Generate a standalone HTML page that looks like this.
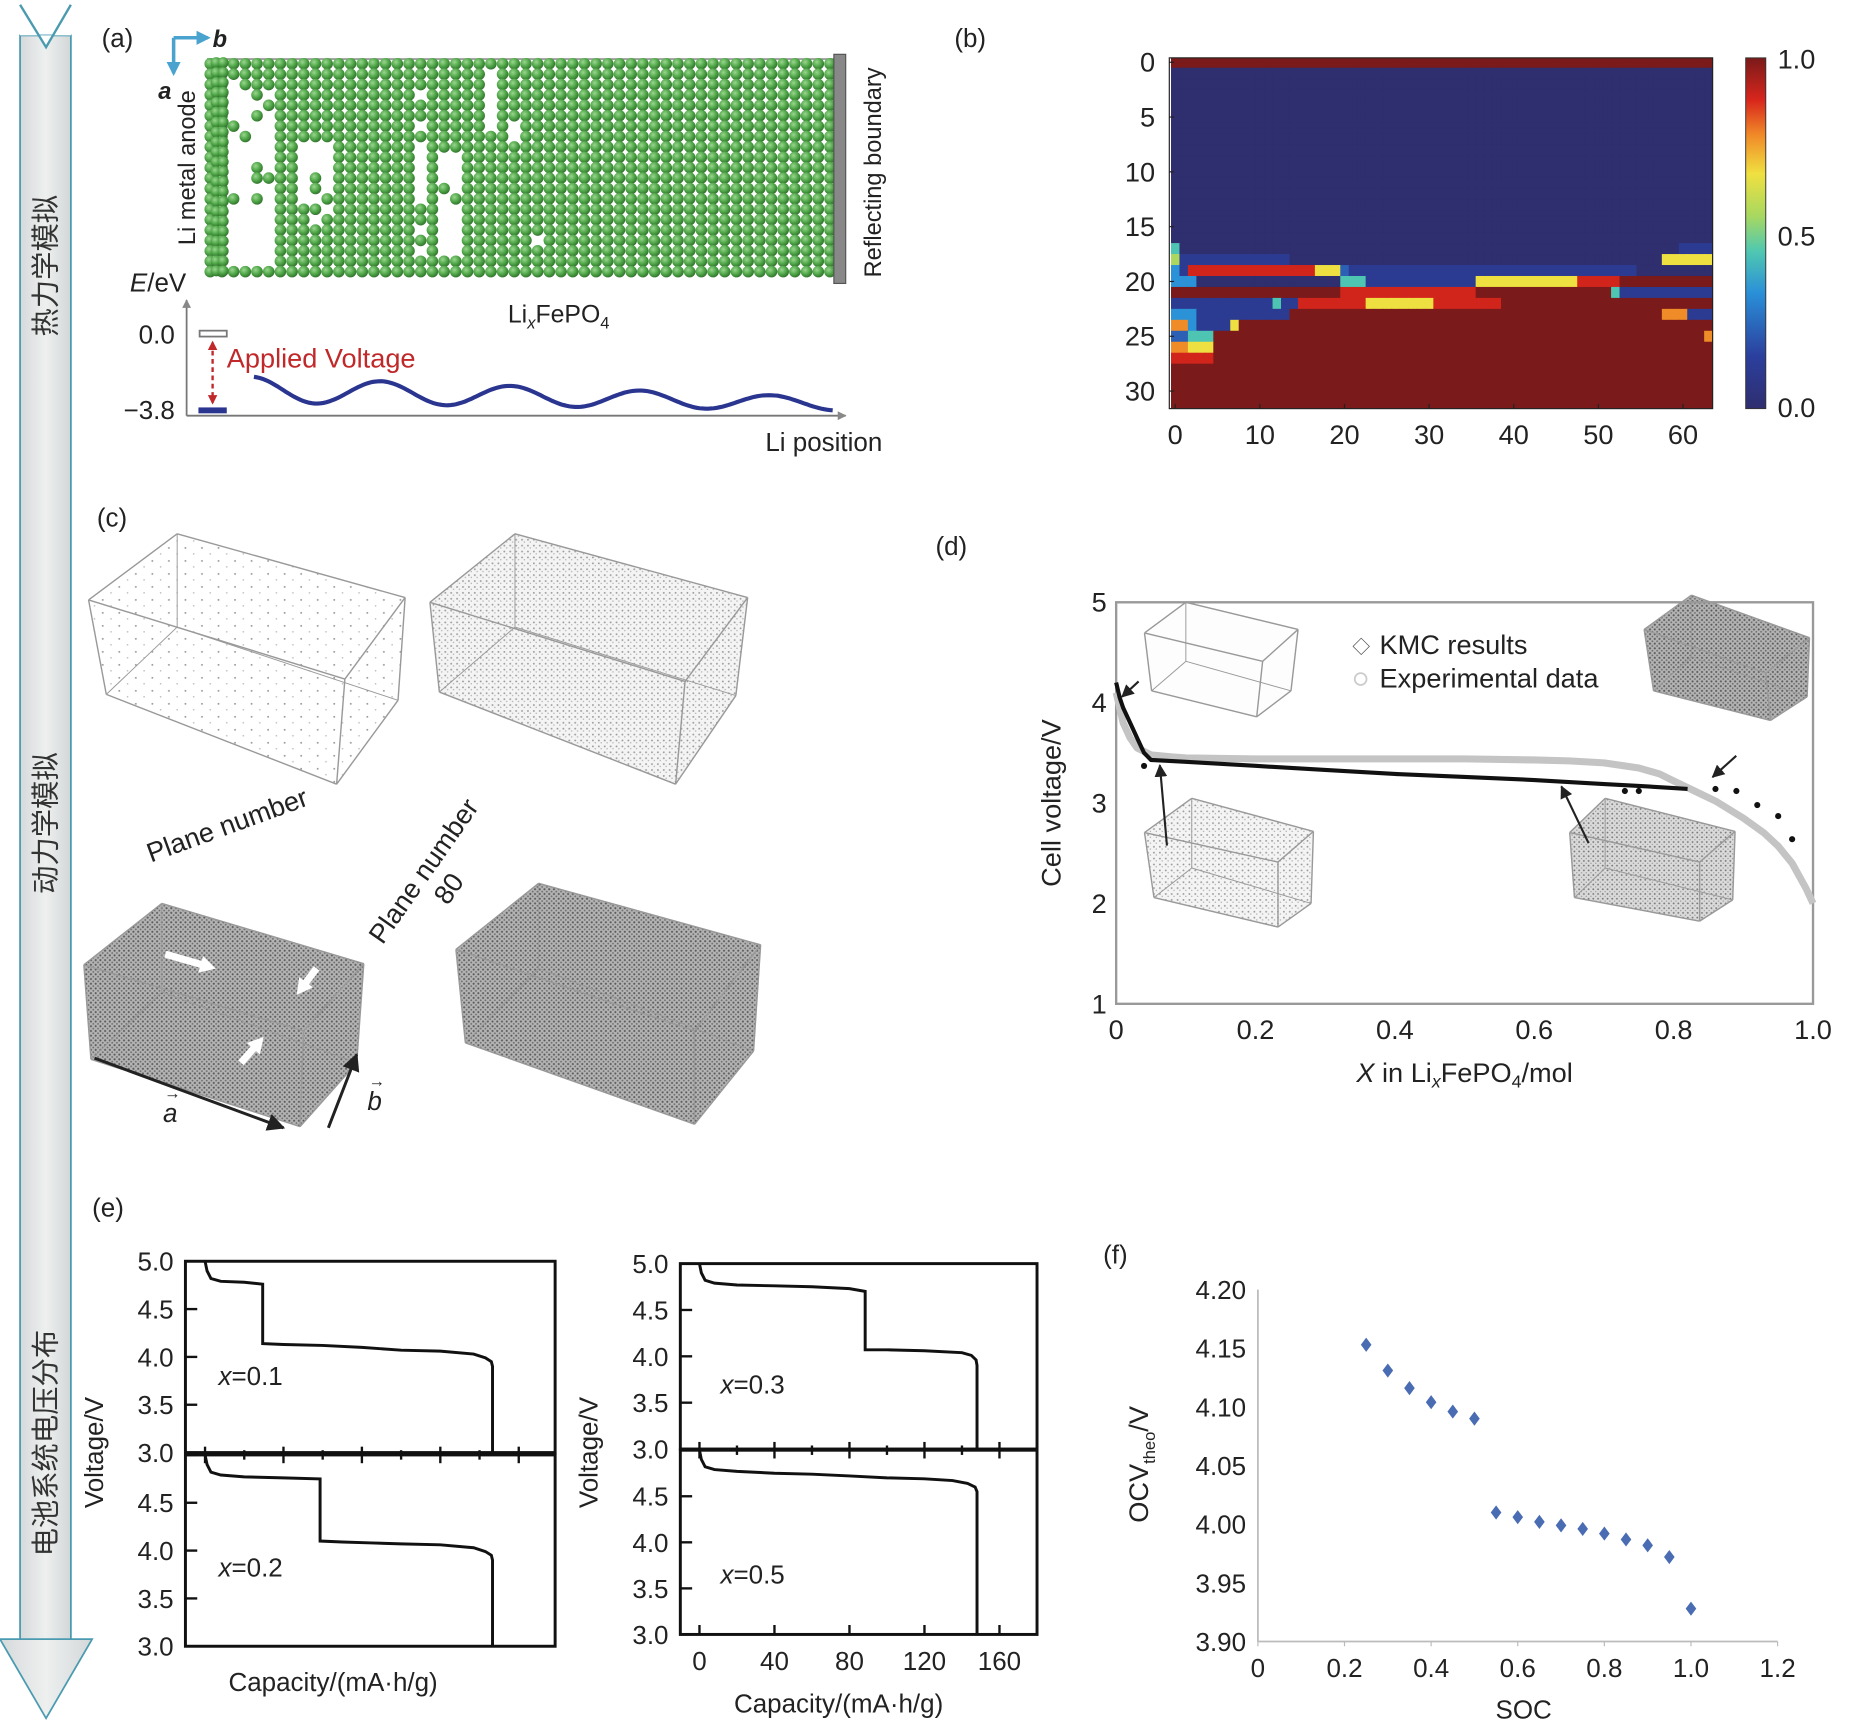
<!DOCTYPE html>
<html><head><meta charset="utf-8">
<style>
html,body{margin:0;padding:0;background:#fff;}
svg{display:block;font-family:"Liberation Sans","Noto Sans CJK SC",sans-serif;}
</style></head>
<body>
<svg id="root" width="1852" height="1736" viewBox="0 0 1568 1470" preserveAspectRatio="none" xmlns="http://www.w3.org/2000/svg">
<defs>
<radialGradient id="atomG" cx="0.38" cy="0.35" r="0.7">
<stop offset="0" stop-color="#9ad68f"/><stop offset="0.55" stop-color="#4fa648"/><stop offset="1" stop-color="#2f6e2a"/>
</radialGradient>
<linearGradient id="bandG" x1="0" x2="1" y1="0" y2="0">
<stop offset="0" stop-color="#d6d9da"/><stop offset="0.5" stop-color="#eef0f0"/><stop offset="1" stop-color="#d3d7d8"/>
</linearGradient>
<linearGradient id="cbarG" x1="0" x2="0" y1="1" y2="0">
<stop offset="0" stop-color="#2f2e6f"/><stop offset="0.15" stop-color="#2b3f9e"/><stop offset="0.33" stop-color="#2a90d8"/><stop offset="0.45" stop-color="#50c8b0"/><stop offset="0.55" stop-color="#a8d860"/><stop offset="0.67" stop-color="#f0e040"/><stop offset="0.78" stop-color="#f08a28"/><stop offset="0.88" stop-color="#d8261c"/><stop offset="1" stop-color="#7a1a1a"/>
</linearGradient>
<pattern id="dotsSparse" width="14" height="11" patternUnits="userSpaceOnUse"><rect width="14" height="11" fill="#fff"/><circle cx="3" cy="2" r="0.8" fill="#999"/><circle cx="10" cy="7" r="0.7" fill="#bbb"/></pattern>
<pattern id="dotsLight" width="5" height="5" patternUnits="userSpaceOnUse"><rect width="5" height="5" fill="#f4f4f4"/><circle cx="2" cy="2" r="0.8" fill="#999"/><circle cx="4" cy="4" r="0.6" fill="#aaa"/></pattern>
<pattern id="dotsMid" width="4" height="4" patternUnits="userSpaceOnUse"><rect width="4" height="4" fill="#dadada"/><circle cx="1" cy="1" r="0.8" fill="#7a7a7a"/><circle cx="3" cy="3" r="0.6" fill="#999"/></pattern>
<pattern id="dotsDark" width="4" height="4" patternUnits="userSpaceOnUse"><rect width="4" height="4" fill="#b4b4b4"/><circle cx="1" cy="1" r="0.9" fill="#5a5a5a"/><circle cx="3" cy="3" r="0.8" fill="#6e6e6e"/></pattern>
<marker id="arrK" viewBox="0 0 10 10" refX="9" refY="5" markerWidth="6" markerHeight="6" orient="auto"><path d="M0,0L10,5L0,10z" fill="#222"/></marker>
<marker id="arrG" viewBox="0 0 10 10" refX="9" refY="5" markerWidth="5" markerHeight="5" orient="auto"><path d="M0,0L10,5L0,10z" fill="#888"/></marker>
<marker id="arrC" viewBox="0 0 10 10" refX="8" refY="5" markerWidth="4" markerHeight="4" orient="auto"><path d="M0,0L10,5L0,10z" fill="#4aa3cf"/></marker>
<marker id="arrR" viewBox="0 0 10 10" refX="8" refY="5" markerWidth="4" markerHeight="4" orient="auto-start-reverse"><path d="M0,0L10,5L0,10z" fill="#c0282a"/></marker>
</defs>

<g>
<rect x="17" y="30" width="43" height="1362" fill="url(#bandG)" stroke="#4a9ab0" stroke-width="1.5"/>
<polygon points="17,4 39,40 60,4 60,30 17,30" fill="#fff"/>
<polyline points="17,4 39,40 60,4" fill="none" stroke="#4a9ab0" stroke-width="2"/>
<polygon points="0,1388 78,1388 39,1455" fill="url(#bandG)" stroke="#4a9ab0" stroke-width="1.5"/>
<text transform="translate(47,225) rotate(-90)" text-anchor="middle" font-size="24" fill="#333">热力学模拟</text>
<text transform="translate(47,697) rotate(-90)" text-anchor="middle" font-size="24" fill="#333">动力学模拟</text>
<text transform="translate(47,1222) rotate(-90)" text-anchor="middle" font-size="24" fill="#333">电池系统电压分布</text>
</g>

<g id="panelA">
<text x="86" y="40" font-size="22" fill="#222">(a)</text>
<line x1="147" y1="32" x2="176" y2="32" stroke="#4aa3cf" stroke-width="3" marker-end="url(#arrC)"/>
<line x1="147" y1="32" x2="147" y2="62" stroke="#4aa3cf" stroke-width="3" marker-end="url(#arrC)"/>
<text x="180" y="40" font-size="20" font-style="italic" font-weight="bold" fill="#222">b</text>
<text x="134" y="84" font-size="20" font-style="italic" font-weight="bold" fill="#222">a</text>
<rect x="176" y="50" width="530" height="180" fill="none" stroke="#999" stroke-width="1.5"/>
<g id="atoms"></g>
<rect x="706" y="46" width="10" height="194" fill="#888" stroke="#555"/>
<text transform="translate(165,142) rotate(-90)" text-anchor="middle" font-size="20" fill="#222">Li metal anode</text>
<text transform="translate(746,146) rotate(-90)" text-anchor="middle" font-size="20" fill="#222">Reflecting boundary</text>
<text x="430" y="273" font-size="21" fill="#222">Li<tspan font-style="italic" font-size="14" dy="5">x</tspan><tspan dy="-5">FePO</tspan><tspan font-size="14" dy="5">4</tspan></text>
<line x1="158" y1="352" x2="158" y2="254" stroke="#777" stroke-width="1.5" marker-end="url(#arrG)"/>
<line x1="158" y1="352" x2="716" y2="352" stroke="#777" stroke-width="1.5" marker-end="url(#arrG)"/>
<text x="110" y="247" font-size="22" fill="#222"><tspan font-style="italic">E</tspan>/eV</text>
<text x="148" y="291" text-anchor="end" font-size="22" fill="#222">0.0</text>
<text x="148" y="355" text-anchor="end" font-size="22" fill="#222">−3.8</text>
<rect x="169" y="280" width="23" height="5" fill="#fff" stroke="#777" stroke-width="1.5"/>
<rect x="168" y="345" width="24" height="5" fill="#2a3590"/>
<line x1="180" y1="290" x2="180" y2="341" stroke="#c0282a" stroke-width="2" stroke-dasharray="4,3" marker-start="url(#arrR)" marker-end="url(#arrR)"/>
<text x="192" y="311" font-size="23" fill="#c0282a">Applied Voltage</text>
<path id="wave" fill="none" stroke="#2a3590" stroke-width="3.5"/>
<text x="648" y="382" font-size="22" fill="#222">Li position</text>
</g>

<g id="panelB">
<text x="808" y="40" font-size="22" fill="#222">(b)</text>
<g id="heat"></g>
<rect x="990" y="49" width="460" height="297" fill="none" stroke="#222" stroke-width="1"/>
<g id="heatAxes"></g>
<rect x="1478" y="49" width="17" height="297" fill="url(#cbarG)" stroke="#333" stroke-width="0.8"/>
<text x="1505" y="58" font-size="23" fill="#222">1.0</text>
<text x="1505" y="208" font-size="23" fill="#222">0.5</text>
<text x="1505" y="353" font-size="23" fill="#222">0.0</text>
</g>

<g id="panelC">
<text x="82" y="446" font-size="22" fill="#222">(c)</text>
<g id="boxes"></g>
<text transform="translate(195,706) rotate(-20)" text-anchor="middle" font-size="23" fill="#222">Plane number</text>
<text transform="translate(365,742) rotate(-55)" text-anchor="middle" font-size="23" fill="#222"><tspan x="0" y="0">Plane number</tspan><tspan x="0" y="26">80</tspan></text>
<line x1="80" y1="896" x2="240" y2="955" stroke="#222" stroke-width="2.5" marker-end="url(#arrK)"/>
<line x1="278" y1="955" x2="302" y2="893" stroke="#222" stroke-width="2.5" marker-end="url(#arrK)"/>
<text x="138" y="950" font-size="22" font-style="italic" fill="#222">a</text>
<text x="311" y="940" font-size="22" font-style="italic" fill="#222">b</text>
<text x="139" y="930" font-size="14" fill="#222">→</text>
<text x="312" y="920" font-size="14" fill="#222">→</text>
</g>

<g id="panelD">
<text x="792" y="470" font-size="22" fill="#222">(d)</text>
<g id="dInsets"></g>
<rect x="945" y="510" width="590" height="340" fill="none" stroke="#999" stroke-width="2"/>
<g id="dPlot"></g>
<g id="dAxes"></g>
<text x="1145" y="553" font-size="15" fill="#444">◇</text>
<text x="1168" y="554" font-size="23" fill="#222">KMC results</text>
<circle cx="1152" cy="575" r="5" fill="none" stroke="#ccc" stroke-width="1.5"/>
<text x="1168" y="582" font-size="23" fill="#222">Experimental data</text>
<text transform="translate(898,680) rotate(-90)" text-anchor="middle" font-size="23" fill="#222">Cell voltage/V</text>
<text x="1240" y="916" text-anchor="middle" font-size="23" fill="#222"><tspan font-style="italic">X</tspan> in Li<tspan font-style="italic" font-size="15" dy="5">x</tspan><tspan dy="-5">FePO</tspan><tspan font-size="15" dy="5">4</tspan><tspan dy="-5">/mol</tspan></text>
</g>

<g id="panelE">
<text x="78" y="1030" font-size="22" fill="#222">(e)</text>
<g id="ePlots"></g>
<text transform="translate(87,1230) rotate(-90)" text-anchor="middle" font-size="22" fill="#222">Voltage/V</text>
<text transform="translate(506,1230) rotate(-90)" text-anchor="middle" font-size="22" fill="#222">Voltage/V</text>
<text x="282" y="1432" text-anchor="middle" font-size="22" fill="#222">Capacity/(mA·h/g)</text>
<text x="710" y="1450" text-anchor="middle" font-size="22" fill="#222">Capacity/(mA·h/g)</text>
</g>

<g id="panelF">
<text x="934" y="1070" font-size="22" fill="#222">(f)</text>
<g id="fPlot"></g>
<text transform="translate(972,1240) rotate(-90)" text-anchor="middle" font-size="23" fill="#222">OCV<tspan font-size="14" dy="6">theo</tspan><tspan dy="-6">/V</tspan></text>
<text x="1290" y="1455" text-anchor="middle" font-size="22" fill="#222">SOC</text>
</g>
</svg>

<script>
const heatRows = [
"9".repeat(64),
"0".repeat(64),"0".repeat(64),"0".repeat(64),"0".repeat(64),"0".repeat(64),"0".repeat(64),"0".repeat(64),"0".repeat(64),
"0".repeat(64),"0".repeat(64),"0".repeat(64),"0".repeat(64),"0".repeat(64),"0".repeat(64),"0".repeat(64),"0".repeat(64),
"4"+"0".repeat(59)+"1111",
"5"+"1".repeat(13)+"0".repeat(44)+"666666",
"31"+"8".repeat(15)+"666"+"2"+"1".repeat(34)+"0".repeat(9),
"333"+"0".repeat(17)+"444"+"1".repeat(13)+"6".repeat(12)+"8".repeat(5)+"9".repeat(11),
"9".repeat(20)+"8".repeat(16)+"9".repeat(16)+"4"+"1".repeat(11),
"1".repeat(12)+"4"+"11"+"8".repeat(8)+"6".repeat(8)+"8".repeat(8)+"9".repeat(25),
"333"+"1".repeat(11)+"9".repeat(44)+"777"+"111",
"773"+"1111"+"6"+"9".repeat(56),
"22444"+"9".repeat(58)+"7",
"77666"+"9".repeat(59),
"88888"+"9".repeat(59),
"9".repeat(64),"9".repeat(64),"9".repeat(64),"9".repeat(64)
];
const heatXTicks = [0,10,20,30,40,50,60];
const heatYTicks = [0,5,10,15,20,25,30];

const expX = [0,0.005,0.01,0.02,0.03,0.05,0.08,0.1,0.2,0.3,0.4,0.5,0.6,0.65,0.7,0.75,0.78,0.8,0.83,0.86,0.9,0.93,0.95,0.97,0.99,1.0];
const expV = [4.1,3.95,3.8,3.65,3.55,3.48,3.46,3.45,3.44,3.44,3.44,3.44,3.43,3.42,3.40,3.35,3.29,3.22,3.12,3.02,2.85,2.7,2.57,2.4,2.15,2.0];
const kmcX = [0,0.005,0.01,0.02,0.03,0.04,0.05,0.1,0.2,0.3,0.4,0.5,0.6,0.7,0.75,0.8,0.82];
const kmcV = [4.2,4.05,3.95,3.8,3.65,3.5,3.43,3.41,3.37,3.33,3.29,3.26,3.23,3.19,3.17,3.15,3.14];
const kmcDotX = [0.04,0.73,0.75,0.86,0.89,0.92,0.95,0.97];
const kmcDotV = [3.37,3.12,3.12,3.14,3.12,2.98,2.87,2.64];
const dXTicks = [0,0.2,0.4,0.6,0.8,1.0];
const dXLabels = ["0","0.2","0.4","0.6","0.8","1.0"];
const dYTicks = [1,2,3,4,5];

const eCap01 = [0,1,3,8,20,29.4,29.4,40,60,80,100,120,137,143,146,146.6,146.6];
const eV01   = [5.0,4.9,4.82,4.79,4.78,4.76,4.14,4.13,4.12,4.10,4.07,4.06,4.03,3.99,3.95,3.9,3.0];
const eCap02 = [0,1,3,8,20,40,58.7,58.7,70,85,100,120,137,143,146,146.6,146.6];
const eV02   = [5.0,4.9,4.82,4.79,4.77,4.76,4.75,4.1,4.09,4.08,4.07,4.06,4.03,3.99,3.95,3.9,3.0];
const eCap03 = [0,1,3,8,20,40,60,80,88.4,88.4,100,120,140,145,147.5,148,148];
const eV03   = [5.0,4.9,4.82,4.79,4.77,4.76,4.75,4.73,4.70,4.07,4.07,4.06,4.04,4.01,3.96,3.9,3.0];
const eCap05 = [0,1,3,8,20,40,60,80,100,120,135,143,147,148,148];
const eV05   = [5.0,4.9,4.82,4.79,4.77,4.75,4.74,4.72,4.70,4.69,4.67,4.64,4.6,4.55,3.0];
const eYTicks = [3.0,3.5,4.0,4.5,5.0];
const eYLabels = ["3.0","3.5","4.0","4.5","5.0"];
const eXTicks = [0,20,40,60,80,100,120,140,160];
const eXLabels = [0,40,80,120,160];

const socX = [0.25,0.30,0.35,0.40,0.45,0.50,0.55,0.60,0.65,0.70,0.75,0.80,0.85,0.90,0.95,1.00];
const ocvY = [4.153,4.131,4.116,4.104,4.096,4.090,4.010,4.006,4.002,3.999,3.996,3.992,3.987,3.982,3.972,3.928];
const fXTicks = [0,0.2,0.4,0.6,0.8,1.0,1.2];
const fXLabels = ["0","0.2","0.4","0.6","0.8","1.0","1.2"];
const fYTicks = [3.90,3.95,4.00,4.05,4.10,4.15,4.20];

const NS = "http://www.w3.org/2000/svg";
function mk(tag, attrs, parent){const e=document.createElementNS(NS,tag);for(const k in attrs)e.setAttribute(k,attrs[k]);parent.appendChild(e);return e;}
function txt(parent,x,y,s,size,anchor){const t=mk('text',{x:x,y:y,'font-size':size,'text-anchor':anchor||'start',fill:'#222'},parent);t.textContent=s;return t;}

(function(){
  const g=document.getElementById('atoms');
  const holes=[[200,70,27,158],[259,118,19,74],[350,80,7,140],[372,130,16,84],[409,56,8,62],[432,106,8,12],[380,175,8,10],[446,200,8,12]];
  let k=0;
  for(let c=0;c<54;c++){
    for(let r=0;r<21;r++){
      const x=178+c*9.9, y=54+r*8.8;
      let inHole=false;
      for(const h of holes){if(x>h[0]-3&&x<h[0]+h[2]+3&&y>h[1]&&y<h[1]+h[3]){inHole=true;}}
      k=(k*37+11)%97;
      if(inHole && k%5!==0) continue;
      const el=mk('circle',{cx:x,cy:y,r:4.9,fill:'url(#atomG)'},g);
      
      
    }
  }
  for(let r=0;r<22;r++){for(let c=0;c<2;c++){mk('circle',{cx:183+c*6,cy:53+r*8.4,r:4.6,fill:'url(#atomG)'},g);}}
  let d='';
  for(let i=0;i<=200;i++){
    const x=215+i*(490/200);
    const t=(x-215)/110;
    const amp=11*(1-0.5*i/200);
    const base=330+(i/200)*12;
    const y=base-amp*Math.cos(2*Math.PI*(t+0.02));
    d+=(i?'L':'M')+x.toFixed(1)+','+y.toFixed(1);
  }
  document.getElementById('wave').setAttribute('d',d);
})();

const jetStops=[[0,[47,46,111]],[0.15,[43,63,158]],[0.33,[42,144,216]],[0.45,[80,200,176]],[0.55,[168,216,96]],[0.67,[240,224,64]],[0.78,[240,138,40]],[0.88,[216,38,28]],[1,[122,26,26]]];
function jet(v){for(let i=1;i<jetStops.length;i++){if(v<=jetStops[i][0]){const a=jetStops[i-1],b=jetStops[i];const t=(v-a[0])/(b[0]-a[0]);const c=a[1].map((q,j)=>Math.round(q+(b[1][j]-q)*t));return 'rgb('+c.join(',')+')';}}return 'rgb(122,26,26)';}
const hx0=990,hx1=1450,hy0=49,hy1=346;
function hxS(c){return hx0+(c+0.7)*((hx1-hx0)/64.2);}
function hyS(r){return hy0+(r+0.4)*((hy1-hy0)/32);}
(function(){
  const g=document.getElementById('heat');
  const cw=(hx1-hx0)/64.2, ch=(hy1-hy0)/32;
  heatRows.forEach((row,r)=>{
    for(let c=0;c<64;c++){
      const v=parseInt(row[c]||'9')/9;
      const el=mk('rect',{x:(hxS(c)-cw/2).toFixed(2),y:(hyS(r)-ch/2).toFixed(2),width:(cw+0.6).toFixed(2),height:(ch+0.6).toFixed(2),fill:jet(v)},g);
      
      
    }
  });
  mk('rect',{x:hx0-2,y:hy0-6,width:hx1-hx0+4,height:6,fill:'#fff'},g);
  mk('rect',{x:hx0-2,y:hy1,width:hx1-hx0+4,height:8,fill:'#fff'},g);
  mk('rect',{x:hx0-12,y:hy0-6,width:12,height:hy1-hy0+14,fill:'#fff'},g);
  mk('rect',{x:hx1,y:hy0-6,width:12,height:hy1-hy0+14,fill:'#fff'},g);
  const ax=document.getElementById('heatAxes');
  heatXTicks.forEach(v=>{const x=hxS(v);mk('line',{x1:x,y1:hy1,x2:x,y2:hy1-4,stroke:'#222'},ax);const t=txt(ax,x,hy1+30,String(v),23,'middle');});
  heatYTicks.forEach(v=>{const y=hyS(v);mk('line',{x1:hx0,y1:y,x2:hx0+4,y2:y,stroke:'#222'},ax);const t=txt(ax,hx0-12,y+8,String(v),23,'end');});
})();

function drawBox(g,P,fillBack,name){
  const [A,B,C,D,A2,B2,C2,D2]=P;
  const bg=mk('g',{},g);
  
  
  const pts=a=>a.map(p=>p.join(',')).join(' ');
  if(fillBack){mk('polygon',{points:pts([A,B,C,C2,D2,A2]),fill:fillBack},bg);}
  const L=(p,q,w)=>mk('line',{x1:p[0],y1:p[1],x2:q[0],y2:q[1],stroke:'#999',"stroke-width":w||1.2},bg);
  L(A,B);L(B,C);L(C,D);L(D,A);L(A,A2);L(D,D2);L(C,C2);L(A2,D2);L(D2,C2);
  L(B,B2,0.8);L(B2,A2,0.8);L(B2,C2,0.8);
  return bg;
}
(function(){
  const g=document.getElementById('boxes');
  drawBox(g,[[75,508],[150,452],[343,506],[292,575],[90,588],[150,531],[337,593],[285,664]],'url(#dotsSparse)','box-initial');
  drawBox(g,[[364,510],[436,452],[633,506],[580,577],[372,586],[436,531],[623,589],[572,664]],'url(#dotsLight)','box-early');
  drawBox(g,[[71,817],[137,765],[308,816],[257,873],[77,897],[137,840],[302,900],[254,954]],'url(#dotsDark)','box-mid');
  drawBox(g,[[386,804],[456,748],[644,800],[588,873],[394,883],[456,820],[638,890],[588,952]],'url(#dotsDark)','box-full');
  const wa=(x1,y1,x2,y2)=>{mk('line',{x1:x1,y1:y1,x2:x2,y2:y2,stroke:'#fff','stroke-width':6},g);const a=Math.atan2(y2-y1,x2-x1);const p=[[x2+8*Math.cos(a),y2+8*Math.sin(a)],[x2+9*Math.cos(a+2.2),y2+9*Math.sin(a+2.2)],[x2+9*Math.cos(a-2.2),y2+9*Math.sin(a-2.2)]];mk('polygon',{points:p.map(q=>q.join(',')).join(' '),fill:'#fff'},g);};
  wa(140,808,175,818);wa(268,820,256,836);wa(204,900,218,884);
})();

const dx0=945,dx1=1535,dy0=850,dy1=510;
function dX(v){return dx0+(v-0)*(dx1-dx0)/1.0;}
function dY(v){return dy0-(v-1)*(dy0-dy1)/4;}
(function(){
  const ins=document.getElementById('dInsets');
  drawBox(ins,[[969,536],[1004,510],[1099,533],[1069,560],[975,585],[1004,560],[1093,585],[1064,607]],'#fdfdfd','inset-empty');
  drawBox(ins,[[1392,533],[1432,504],[1532,540],[1495,570],[1400,585],[1432,556],[1530,590],[1499,610]],'url(#dotsDark)','inset-full');
  drawBox(ins,[[969,705],[1009,676],[1112,704],[1082,730],[977,760],[1009,735],[1110,765],[1082,785]],'url(#dotsLight)','inset-early');
  drawBox(ins,[[1329,705],[1359,676],[1469,704],[1439,730],[1333,760],[1359,735],[1467,762],[1439,780]],'url(#dotsMid)','inset-late');
  const g=document.getElementById('dPlot');
  let d=expX.map((x,i)=>(i?'L':'M')+dX(x).toFixed(1)+','+dY(expV[i]).toFixed(1)).join('');
  const e=mk('path',{d:d,fill:'none',stroke:'#c4c4c4','stroke-width':6,'stroke-linejoin':'round'},g);
  
  
  d=kmcX.map((x,i)=>(i?'L':'M')+dX(x).toFixed(1)+','+dY(kmcV[i]).toFixed(1)).join('');
  const k=mk('path',{d:d,fill:'none',stroke:'#111','stroke-width':3.5},g);
  
  
  kmcDotX.forEach((x,i)=>{const c=mk('circle',{cx:dX(x),cy:dY(kmcDotV[i]),r:2.6,fill:'#111'},g);});
  const arr=(x1,y1,x2,y2)=>mk('line',{x1:x1,y1:y1,x2:x2,y2:y2,stroke:'#222','stroke-width':1.8,'marker-end':'url(#arrK)'},g);
  arr(964,577,950,590);arr(988,716,982,648);arr(1345,714,1322,666);arr(1470,640,1450,658);
  const ax=document.getElementById('dAxes');
  dXTicks.forEach((v,i)=>{const t=txt(ax,dX(v),880,dXLabels[i],23,'middle');});
  dYTicks.forEach(v=>{const t=txt(ax,937,dY(v)+8,String(v),23,'end');});
})();

(function(){
  const g=document.getElementById('ePlots');
  const panels=[
    {bx0:157,bx1:470,x0:173.6,ppu:1.66,top:1068,bot:1230,cap:eCap01,v:eV01,lab:'0.1',lx:185,ly:1173,name:'curve-x0.1'},
    {bx0:157,bx1:470,x0:173.6,ppu:1.66,top:1232,bot:1394,cap:eCap02,v:eV02,lab:'0.2',lx:185,ly:1335,name:'curve-x0.2'},
    {bx0:576,bx1:878,x0:592.2,ppu:1.5875,top:1070,bot:1227,cap:eCap03,v:eV03,lab:'0.3',lx:610,ly:1180,name:'curve-x0.3'},
    {bx0:576,bx1:878,x0:592.2,ppu:1.5875,top:1228,bot:1384,cap:eCap05,v:eV05,lab:'0.5',lx:610,ly:1341,name:'curve-x0.5'}
  ];
  panels.forEach((p,pi)=>{
    const Y=v=>p.bot-(v-3)*(p.bot-p.top)/2;
    const X=c=>p.x0+c*p.ppu;
    mk('rect',{x:p.bx0,y:p.top,width:p.bx1-p.bx0,height:p.bot-p.top,fill:'none',stroke:'#111','stroke-width':2.5},g);
    eYTicks.forEach((v,i)=>{
      mk('line',{x1:p.bx0,y1:Y(v),x2:p.bx0+10,y2:Y(v),stroke:'#111','stroke-width':2},g);
      if(!(pi%2===1 && i===4)){const t=txt(g,p.bx0-10,Y(v)+8,eYLabels[i],22,'end');}
    });
    if(pi%2===1){
      eXTicks.forEach((c,i)=>{const L=i%2===0?7:4;mk('line',{x1:X(c),y1:p.top-L,x2:X(c),y2:p.top+L,stroke:'#111','stroke-width':2},g);});
    }
    if(pi===3){
      eXTicks.forEach((c,i)=>{if(i%2===0)mk('line',{x1:X(c),y1:p.bot,x2:X(c),y2:p.bot-8,stroke:'#111','stroke-width':2},g);});
      eXLabels.forEach(c=>{const t=txt(g,X(c),p.bot+30,String(c),22,'middle');});
    }
    const d=p.cap.map((c,i)=>(i?'L':'M')+X(c).toFixed(1)+','+Y(p.v[i]).toFixed(1)).join('');
    const path=mk('path',{d:d,fill:'none',stroke:'#111','stroke-width':2.5},g);
    
    
    const t=mk('text',{x:p.lx,y:p.ly,'font-size':22,fill:'#222'},g);
    t.innerHTML='<tspan font-style="italic">x</tspan>='+p.lab;
  });
})();

const fx0=1065,fx1=1505,fy0=1390,fy1=1092;
function fX(v){return fx0+v*(fx1-fx0)/1.2;}
function fY(v){return fy0-(v-3.9)*(fy0-fy1)/0.3;}
(function(){
  const g=document.getElementById('fPlot');
  mk('line',{x1:fx0,y1:fy1,x2:fx0,y2:fy0,stroke:'#bbb','stroke-width':1.5},g);
  mk('line',{x1:fx0,y1:fy0,x2:fx1,y2:fy0,stroke:'#bbb','stroke-width':1.5},g);
  fXTicks.forEach((v,i)=>{mk('line',{x1:fX(v),y1:fy0,x2:fX(v),y2:fy0+4,stroke:'#bbb'},g);const t=txt(g,fX(v),fy0+30,fXLabels[i],22,'middle');});
  fYTicks.forEach(v=>{const t=txt(g,fx0-10,fY(v)+8,v.toFixed(2),22,'end');});
  socX.forEach((x,i)=>{
    const cx=fX(x),cy=fY(ocvY[i]);
    const p=mk('polygon',{points:[[cx,cy-6],[cx+4.5,cy],[cx,cy+6],[cx-4.5,cy]].map(q=>q.join(',')).join(' '),fill:'#4a6cb3'},g);
    
    
  });
})();
</script>
</body></html>
